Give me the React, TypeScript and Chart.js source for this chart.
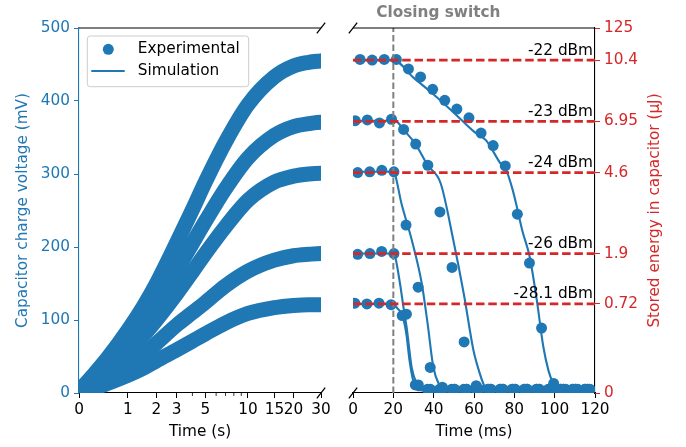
import { useEffect, useRef } from 'react';
import { Chart, registerables, LinearScale } from 'chart.js';

const BLUE = '#1f77b4';
const RED = '#d62728';
const GRAY = '#808080';
const FONT_FAMILY = "'DejaVu Sans', 'Liberation Sans', sans-serif";
const FONT_SIZE = 15.3;

// ---------- Left panel: charging curves (time in s) ----------
const CHARGE_TIME_S = [0, 0.25, 0.5, 1, 1.5, 2, 3, 4, 5, 7, 10, 15, 20, 25, 30, 33];
const CHARGE_22DBM = [3, 27, 48, 86, 119, 150, 206, 251, 289, 344, 395, 433, 448, 453, 455, 456];
const CHARGE_23DBM = [3, 21, 39, 69, 97, 123, 168, 205, 235, 280, 322, 353, 365, 369, 371, 371];
const CHARGE_24DBM = [3, 17, 32, 57, 79, 100, 136, 166, 191, 228, 264, 289, 297, 300, 301, 301];
const CHARGE_26DBM = [3, 10, 20, 36, 52, 68, 93, 110, 124, 147, 167, 182, 188, 190, 191, 191];
const CHARGE_28DBM = [3, 7, 13, 24, 34, 44, 59, 71, 81, 96, 109, 117, 120, 121, 121, 121];
const CHARGE_TICKS_S = [0, 1, 2, 3, 5, 10, 15, 20, 30];
const CHARGE_MINOR_TICKS_S = [4, 6, 7, 8, 9];
const VOLTAGE_TICKS_MV = [0, 100, 200, 300, 400, 500];

// ---------- Right panel: discharge (time in ms) ----------
const SWITCH_TIME_MS = 20;
const LEVEL_LABELS = ['-22 dBm', '-23 dBm', '-24 dBm', '-26 dBm', '-28.1 dBm'];
const LEVEL_MV = [456, 372, 302, 191, 122];
const ENERGY_TICK_MV = [0, 122, 191, 302, 372, 456, 500];
const ENERGY_TICK_LABELS = ['0', '0.72', '1.9', '4.6', '6.95', '10.4', '125'];
const DISCHARGE_TICKS_MS = [0, 20, 40, 60, 80, 100, 120];

const EXP_T_22 = [3.5, 9.5, 15.5, 21.5, 27.5, 33.5, 39.5, 45.5, 51.5, 57.5, 63.5, 69.5, 75.5, 81.5, 87.5, 93.5, 99.5, 105.5, 111.5, 117.5];
const EXP_V_22 = [457, 456, 457, 457, 444, 433, 416, 401, 389, 377, 356, 339, 311, 245, 178, 89, 13, 5, 5, 5];
const EXP_T_23 = [1.1, 7.1, 13.1, 19.1, 25.1, 31.1, 37.1, 43.1, 49.1, 55.1, 61.1, 67.1, 73.1, 79.1, 85.1, 91.1, 97.1, 103.1, 109.1, 115.1];
const EXP_V_23 = [373, 374, 370, 375, 361, 341, 312, 248, 172, 70, 10, 5, 5, 5, 5, 5, 5, 5, 5, 5];
const EXP_T_24 = [2.3, 8.3, 14.3, 20.3, 26.3, 32.3, 38.3, 44.3, 50.3, 56.3, 62.3, 68.3, 74.3, 80.3, 86.3, 92.3, 98.3, 104.3, 110.3, 116.3];
const EXP_V_24 = [302, 303, 305, 303, 230, 145, 35, 8, 5, 5, 5, 5, 5, 5, 5, 5, 5, 5, 5, 5];
const EXP_T_26 = [2.3, 8.4, 14.2, 20.3, 26.5, 32.4, 38.4, 44.4, 50.4, 56.4, 62.4, 68.4, 74.4, 80.4, 86.4, 92.4, 98.4, 104.4, 110.4, 116.4];
const EXP_V_26 = [190, 191, 194, 191, 108, 11, 5, 5, 5, 5, 5, 5, 5, 5, 5, 5, 5, 5, 5, 5];
const EXP_T_28 = [0.9, 6.9, 12.9, 18.9, 24.4, 30.9, 36.9, 42.9, 48.9, 54.9, 60.9, 66.9, 72.9, 78.9, 84.9, 90.9, 96.9, 102.9, 108.9, 114.9];
const EXP_V_28 = [123, 122, 123, 121, 106, 11, 5, 5, 5, 5, 5, 5, 5, 5, 5, 5, 5, 5, 5, 5];

const SIM_T_22 = [0, 20, 30, 40, 50, 60, 66, 73, 76, 79, 81, 84, 87.5, 91, 94.4, 97, 99.3, 101.5, 120];
const SIM_V_22 = [456, 456, 432, 409, 384, 358, 346, 315, 305, 280, 258, 222, 188, 130, 63, 30, 13, 4, 3];
const SIM_T_23 = [0, 20, 22, 25, 31, 37, 43.5, 49.7, 55, 59.7, 62.5, 64.6, 66.5, 120];
const SIM_V_23 = [373, 373, 371, 361, 341, 312, 287, 210, 135, 59, 30, 13, 3, 3];
const SIM_T_24 = [0, 20, 20.5, 24, 29.1, 34.1, 37, 39.8, 43.1, 45, 120];
const SIM_V_24 = [303, 303, 302, 260, 210, 150, 95, 36, 9, 3, 3];
const SIM_T_26 = [0, 20, 20.5, 23.3, 25, 26.6, 29.1, 31.6, 34, 120];
const SIM_V_26 = [191, 191, 190, 150, 118, 90, 35, 13, 4, 3];
const SIM_T_28 = [0, 20, 22, 24.5, 26.5, 28, 30, 32, 120];
const SIM_V_28 = [122, 122, 116, 106, 80, 45, 15, 4, 3];

class Log1pScale extends LinearScale {
  static id = 'log1p';
  buildTicks() {
    return CHARGE_TICKS_S.map((v) => ({ value: v }));
  }
  getPixelForValue(value: number) {
    const a = Math.log1p(this.min);
    const b = Math.log1p(this.max);
    return this.getPixelForDecimal((Math.log1p(value) - a) / (b - a));
  }
  getValueForPixel(pixel: number) {
    const a = Math.log1p(this.min);
    const b = Math.log1p(this.max);
    return Math.expm1(a + this.getDecimalForPixel(pixel) * (b - a));
  }
}

Chart.register(...registerables, Log1pScale as any);

const pts = (xs: number[], ys: number[]) => xs.map((x, i) => ({ x, y: ys[i] }));

const tickFont = { family: FONT_FAMILY, size: FONT_SIZE };
const CSS_FONT = `${FONT_SIZE}px ${FONT_FAMILY}`;

function drawBreak(ctx: CanvasRenderingContext2D, x: number, y: number) {
  ctx.save();
  ctx.strokeStyle = '#000';
  ctx.lineWidth = 1.3;
  ctx.beginPath();
  ctx.moveTo(x - 4.2, y + 5.3);
  ctx.lineTo(x + 4.2, y - 5.3);
  ctx.stroke();
  ctx.restore();
}

const leftDecor = {
  id: 'leftDecor',
  afterDraw(chart: any) {
    const { ctx, chartArea: ca, scales } = chart;
    ctx.save();
    ctx.strokeStyle = '#000';
    ctx.lineWidth = 1.1;
    ctx.beginPath();
    ctx.moveTo(ca.left, ca.top);
    ctx.lineTo(ca.right, ca.top);
    ctx.stroke();
    ctx.lineWidth = 0.8;
    CHARGE_MINOR_TICKS_S.forEach((v) => {
      const x = scales.x.getPixelForValue(v);
      ctx.beginPath();
      ctx.moveTo(x, ca.bottom);
      ctx.lineTo(x, ca.bottom + 3);
      ctx.stroke();
    });
    ctx.restore();
    drawBreak(ctx, ca.right, ca.top);
    drawBreak(ctx, ca.right, ca.bottom);
    // legend
    ctx.save();
    const lx = ca.left + 8.3;
    const ly = ca.top + 8;
    const w = 161.4;
    const h = 50.7;
    const r = 3;
    ctx.beginPath();
    ctx.moveTo(lx + r, ly);
    ctx.lineTo(lx + w - r, ly);
    ctx.quadraticCurveTo(lx + w, ly, lx + w, ly + r);
    ctx.lineTo(lx + w, ly + h - r);
    ctx.quadraticCurveTo(lx + w, ly + h, lx + w - r, ly + h);
    ctx.lineTo(lx + r, ly + h);
    ctx.quadraticCurveTo(lx, ly + h, lx, ly + h - r);
    ctx.lineTo(lx, ly + r);
    ctx.quadraticCurveTo(lx, ly, lx + r, ly);
    ctx.closePath();
    ctx.fillStyle = 'rgba(255,255,255,0.8)';
    ctx.fill();
    ctx.strokeStyle = '#cccccc';
    ctx.lineWidth = 1;
    ctx.stroke();
    ctx.fillStyle = BLUE;
    ctx.beginPath();
    ctx.arc(lx + 21, ly + 13.3, 5.5, 0, Math.PI * 2);
    ctx.fill();
    ctx.strokeStyle = BLUE;
    ctx.lineWidth = 2.1;
    ctx.beginPath();
    ctx.moveTo(lx + 4, ly + 35);
    ctx.lineTo(lx + 37.4, ly + 35);
    ctx.stroke();
    ctx.fillStyle = '#000';
    ctx.font = CSS_FONT;
    ctx.textAlign = 'left';
    ctx.textBaseline = 'middle';
    ctx.fillText('Experimental', lx + 50.5, ly + 13.5);
    ctx.fillText('Simulation', lx + 50.5, ly + 35.5);
    ctx.restore();
  },
};

const rightDecor = {
  id: 'rightDecor',
  afterDraw(chart: any) {
    const { ctx, chartArea: ca, scales } = chart;
    ctx.save();
    ctx.strokeStyle = '#000';
    ctx.lineWidth = 1.1;
    ctx.beginPath();
    ctx.moveTo(ca.left, ca.top);
    ctx.lineTo(ca.right, ca.top);
    ctx.stroke();
    ctx.restore();
    drawBreak(ctx, ca.left, ca.top);
    drawBreak(ctx, ca.left, ca.bottom);
    ctx.save();
    ctx.font = CSS_FONT;
    ctx.fillStyle = '#000';
    ctx.textAlign = 'right';
    ctx.textBaseline = 'alphabetic';
    LEVEL_LABELS.forEach((lab, i) => {
      const x = scales.x.getPixelForValue(120) - 2;
      const y = scales.y.getPixelForValue(LEVEL_MV[i]) - 5.5;
      ctx.fillText(lab, x, y);
    });
    ctx.font = `bold ${FONT_SIZE}px ${FONT_FAMILY}`;
    ctx.fillStyle = GRAY;
    ctx.textAlign = 'center';
    ctx.textBaseline = 'middle';
    ctx.fillText('Closing switch', scales.x.getPixelForValue(SWITCH_TIME_MS) + 45, ca.top - 15);
    ctx.font = CSS_FONT;
    ctx.fillStyle = RED;
    ctx.translate(ca.right + 60, (ca.top + ca.bottom) / 2);
    ctx.rotate(-Math.PI / 2);
    ctx.fillText('Stored energy in capacitor (\u03bcJ)', 0, 0);
    ctx.restore();
  },
};

export default function App() {
  const leftRef = useRef<HTMLCanvasElement>(null);
  const rightRef = useRef<HTMLCanvasElement>(null);

  useEffect(() => {
    document.body.style.margin = '0';
    const charge = [CHARGE_22DBM, CHARGE_23DBM, CHARGE_24DBM, CHARGE_26DBM, CHARGE_28DBM];
    const left = new Chart(leftRef.current as HTMLCanvasElement, {
      type: 'line',
      data: {
        datasets: charge.map((vals) => ({
          data: pts(CHARGE_TIME_S, vals),
          borderColor: BLUE,
          borderWidth: 15,
          pointRadius: 0,
          cubicInterpolationMode: 'monotone' as const,
          borderCapStyle: 'round' as const,
          borderJoinStyle: 'round' as const,
          fill: false,
          clip: 0,
        })),
      },
      options: {
        animation: false,
        responsive: false,
        events: [],
        layout: { padding: { top: 28, right: 16, left: 0, bottom: 0 } },
        plugins: { legend: { display: false }, tooltip: { enabled: false } },
        scales: {
          x: {
            type: 'log1p' as any,
            min: 0,
            max: 30,
            afterFit: (s: any) => { s.height = 54; },
            grid: { display: true, drawOnChartArea: false, drawTicks: true, tickLength: 5, tickColor: '#000' },
            border: { display: true, color: '#000', width: 1.1 },
            ticks: { color: '#000', font: tickFont, padding: 3, autoSkip: false, maxRotation: 0, minRotation: 0, callback: (v: any) => String(v) },
            title: { display: true, text: 'Time (s)', color: '#000', font: tickFont, padding: { top: 0, bottom: 5.3 } },
          },
          y: {
            type: 'linear',
            min: 0,
            max: 500,
            afterFit: (s: any) => { s.width = 79; },
            afterBuildTicks: (s: any) => { s.ticks = VOLTAGE_TICKS_MV.map((v) => ({ value: v })); },
            grid: { display: true, drawOnChartArea: false, drawTicks: true, tickLength: 5, tickColor: BLUE },
            border: { display: true, color: BLUE, width: 1.1 },
            ticks: { color: BLUE, font: tickFont, padding: 4, callback: (v: any) => String(v) },
            title: { display: true, text: 'Capacitor charge voltage (mV)', color: BLUE, font: tickFont, padding: { top: 13.8, bottom: 0 } },
          },
        },
      },
      plugins: [leftDecor],
    } as any);

    const expT = [EXP_T_22, EXP_T_23, EXP_T_24, EXP_T_26, EXP_T_28];
    const expV = [EXP_V_22, EXP_V_23, EXP_V_24, EXP_V_26, EXP_V_28];
    const simT = [SIM_T_22, SIM_T_23, SIM_T_24, SIM_T_26, SIM_T_28];
    const simV = [SIM_V_22, SIM_V_23, SIM_V_24, SIM_V_26, SIM_V_28];
    const dsets: any[] = [];
    LEVEL_MV.forEach((lvl) => {
      dsets.push({
        data: [{ x: 0, y: lvl }, { x: 120, y: lvl }],
        borderColor: RED,
        borderWidth: 2.7,
        borderDash: [8.5, 3.8],
        pointRadius: 0,
        clip: 0,
        order: 0,
      });
    });
    dsets.push({
      data: [{ x: SWITCH_TIME_MS, y: 0 }, { x: SWITCH_TIME_MS, y: 500 }],
      borderColor: GRAY,
      borderWidth: 2,
      borderDash: [6.5, 3],
      pointRadius: 0,
      clip: 0,
      order: 0,
    });
    simT.forEach((ts, i) => {
      dsets.push({
        data: pts(ts, simV[i]),
        borderColor: BLUE,
        borderWidth: 2.1,
        pointRadius: 0,
        cubicInterpolationMode: 'monotone',
        clip: 0,
        order: 1,
      });
    });
    expT.forEach((ts, i) => {
      dsets.push({
        data: pts(ts, expV[i]),
        showLine: false,
        borderColor: BLUE,
        backgroundColor: BLUE,
        pointBackgroundColor: BLUE,
        pointBorderWidth: 0,
        pointRadius: 5.5,
        clip: 0,
        order: 2,
      });
    });

    const right = new Chart(rightRef.current as HTMLCanvasElement, {
      type: 'line',
      data: { datasets: dsets },
      options: {
        animation: false,
        responsive: false,
        events: [],
        layout: { padding: { top: 28, right: 0, left: 16, bottom: 0 } },
        plugins: { legend: { display: false }, tooltip: { enabled: false } },
        scales: {
          x: {
            type: 'linear',
            min: 0,
            max: 120,
            afterFit: (s: any) => { s.height = 54; },
            afterBuildTicks: (s: any) => { s.ticks = DISCHARGE_TICKS_MS.map((v) => ({ value: v })); },
            grid: { display: true, drawOnChartArea: false, drawTicks: true, tickLength: 5, tickColor: '#000' },
            border: { display: true, color: '#000', width: 1.1 },
            ticks: { color: '#000', font: tickFont, padding: 3, autoSkip: false, maxRotation: 0, minRotation: 0, callback: (v: any) => String(v) },
            title: { display: true, text: 'Time (ms)', color: '#000', font: tickFont, padding: { top: 0, bottom: 5.3 } },
          },
          y: {
            type: 'linear',
            position: 'right',
            min: 0,
            max: 500,
            afterFit: (s: any) => { s.width = 91; },
            afterBuildTicks: (s: any) => { s.ticks = ENERGY_TICK_MV.map((v) => ({ value: v })); },
            grid: { display: true, drawOnChartArea: false, drawTicks: true, tickLength: 5, tickColor: RED },
            border: { display: true, color: '#000', width: 1.1 },
            ticks: {
              color: RED,
              font: tickFont,
              padding: 4,
              autoSkip: false,
              callback: (v: any) => ENERGY_TICK_LABELS[ENERGY_TICK_MV.indexOf(v)],
            },
          },
        },
      },
      plugins: [rightDecor],
    } as any);

    return () => {
      left.destroy();
      right.destroy();
    };
  }, []);

  return (
    <div style={{ position: 'fixed', left: 0, top: 0, width: 686, height: 447, background: '#fff' }}>
      <canvas ref={leftRef} width={337} height={447} style={{ position: 'absolute', left: 0, top: 0, width: 337, height: 447 }} />
      <canvas ref={rightRef} width={349} height={447} style={{ position: 'absolute', left: 337, top: 0, width: 349, height: 447 }} />
    </div>
  );
}
